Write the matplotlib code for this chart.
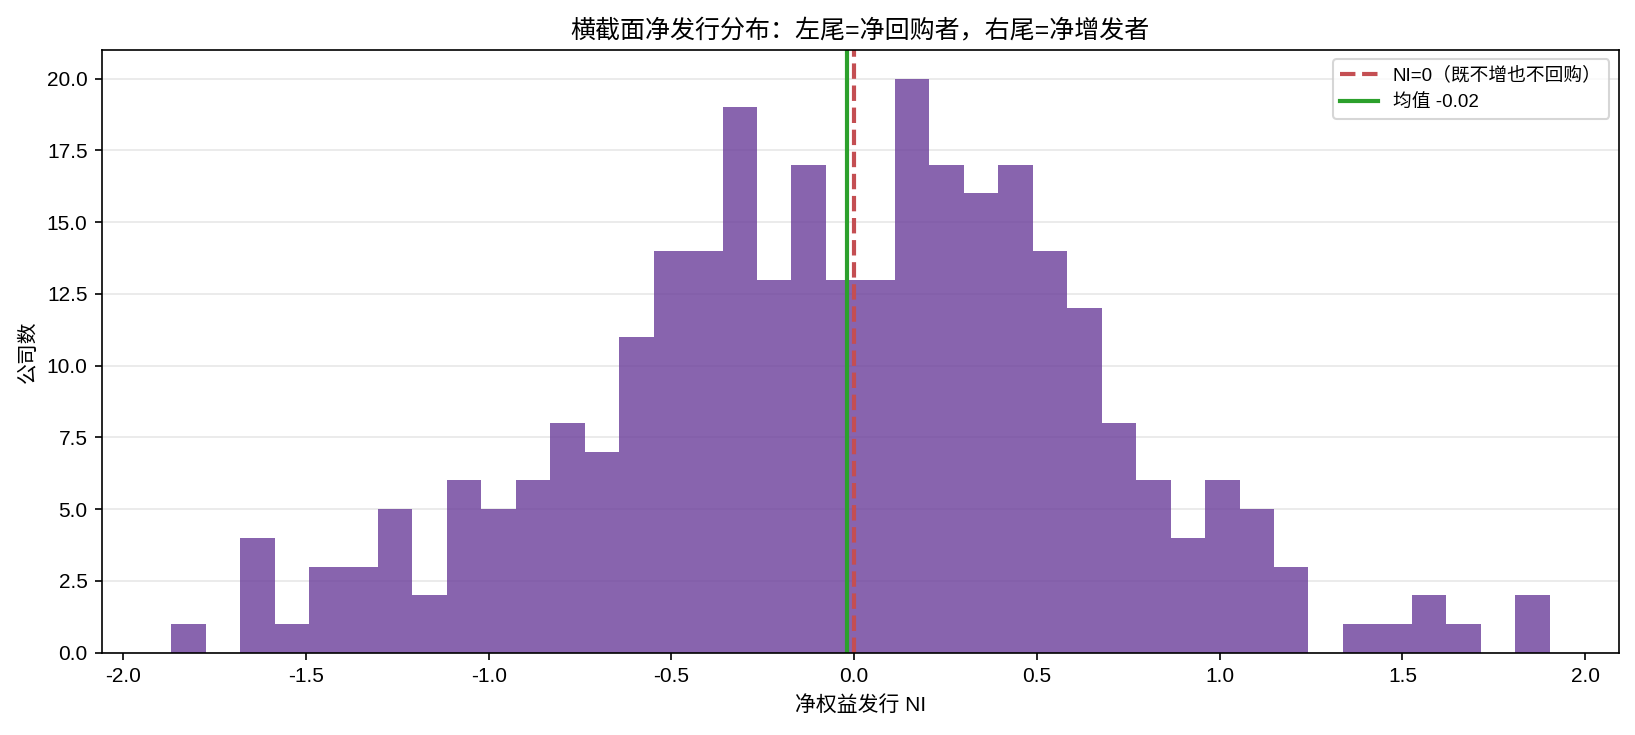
import numpy as np
import matplotlib
matplotlib.use('Agg')
import matplotlib.pyplot as plt

plt.rcParams['font.family'] = ['Liberation Sans', 'Noto Sans CJK SC', 'DejaVu Sans']
plt.rcParams['axes.unicode_minus'] = False

# histogram: 40 bins between the min and max NI
ni_min = -1.869
ni_max = 1.903
counts = [1, 0, 4, 1, 3, 3, 5, 2, 6, 5,
          6, 8, 7, 11, 14, 14, 19, 13, 17, 13,
          13, 20, 17, 16, 17, 14, 12, 8, 6, 4,
          6, 5, 3, 0, 1, 1, 2, 1, 0, 2]
mean_ni = -0.02

edges = np.linspace(ni_min, ni_max, len(counts) + 1)
centers = (edges[:-1] + edges[1:]) / 2

fig = plt.figure(figsize=(10.9, 4.9), dpi=150)
ax = fig.add_axes([0.0625, 0.112, 0.9275, 0.82])
ax.hist(centers, bins=edges, weights=counts, color='#6a3d9a', alpha=0.8)
ax.axvline(0, color='#c44e52', ls='--', lw=2, label='NI=0（既不增也不回购）')
ax.axvline(mean_ni, color='#2ca02c', lw=2, label=f'均值 {mean_ni:.2f}')
ax.grid(axis='y', alpha=0.3)
ax.set_axisbelow(True)
ax.set_title('横截面净发行分布：左尾=净回购者，右尾=净增发者', fontsize=12)
ax.set_xlabel('净权益发行 NI', fontsize=10)
ax.set_ylabel('公司数', fontsize=10)
ax.tick_params(labelsize=10)
ax.legend(loc='upper right', fontsize=9)

fig.savefig('out.png', dpi=150)
